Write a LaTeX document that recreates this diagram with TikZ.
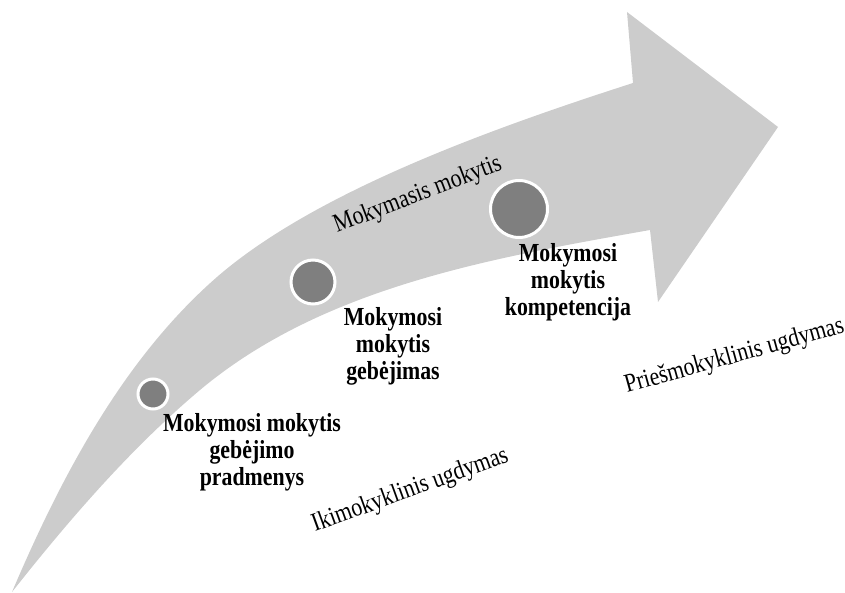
\documentclass[tikz,border=0pt]{standalone}
\usepackage{fontspec}
\setmainfont{Liberation Serif}[FakeStretch=0.84]
\usepackage{tikz}
\usetikzlibrary{positioning}
\definecolor{bandgray}{RGB}{204,204,204}
\definecolor{dotgray}{RGB}{127,127,127}

\begin{document}
\begin{tikzpicture}[
	x=1pt, y=1pt,
	every node/.style={inner sep=0pt},
	% pilki taškai ant rodyklės
	dot_node/.style={
		circle, fill=dotgray, draw=white, line width=3pt
	},
	% pusjuodžiai užrašai po taškais
	step_label/.style={
		align=center, font=\bfseries\fontsize{26}{27}\selectfont
	},
	% pasukti etapų užrašai
	stage_label/.style={
		anchor=base west, font=\fontsize{26}{27}\selectfont
	}
	]
	\useasboundingbox (0,0) rectangle (845,592);
	
	% Lenkta rodyklė
	\fill[bandgray] (12,0) .. controls (61,115) and (123,233) .. (217,315)
		.. controls (315,400) and (490,463) .. (633,509)
		-- (627,580) -- (778,465) -- (658,290) -- (650,362)
		.. controls (492,334) and (323,305) .. (200,202)
		.. controls (130,143) and (69,72) .. (12,0) -- cycle;
	
	% Taškai
	\node[dot_node, minimum size=30] (c1) at (153,198) {};
	\node[dot_node, minimum size=44] (c2) at (313,310) {};
	\node[dot_node, minimum size=57] (c3) at (519,383) {};
	
	% Užrašai po taškais
	\node[step_label] (l1) at (252,140) {Mokymosi mokytis\\gebėjimo\\pradmenys};
	\node[step_label] (l2) at (393,246) {Mokymosi\\mokytis\\gebėjimas};
	\node[step_label] (l3) at (568,310) {Mokymosi\\mokytis\\kompetencija};
	
	% Etapai
	\node[stage_label, rotate=21] (s0) at (337,359) {Mokymasis mokytis};
	\node[stage_label, rotate=20] (s1) at (315,60) {Ikimokyklinis ugdymas};
	\node[stage_label, rotate=15.5] (s2) at (627,199) {Priešmokyklinis ugdymas};
	
\end{tikzpicture}
\end{document}
